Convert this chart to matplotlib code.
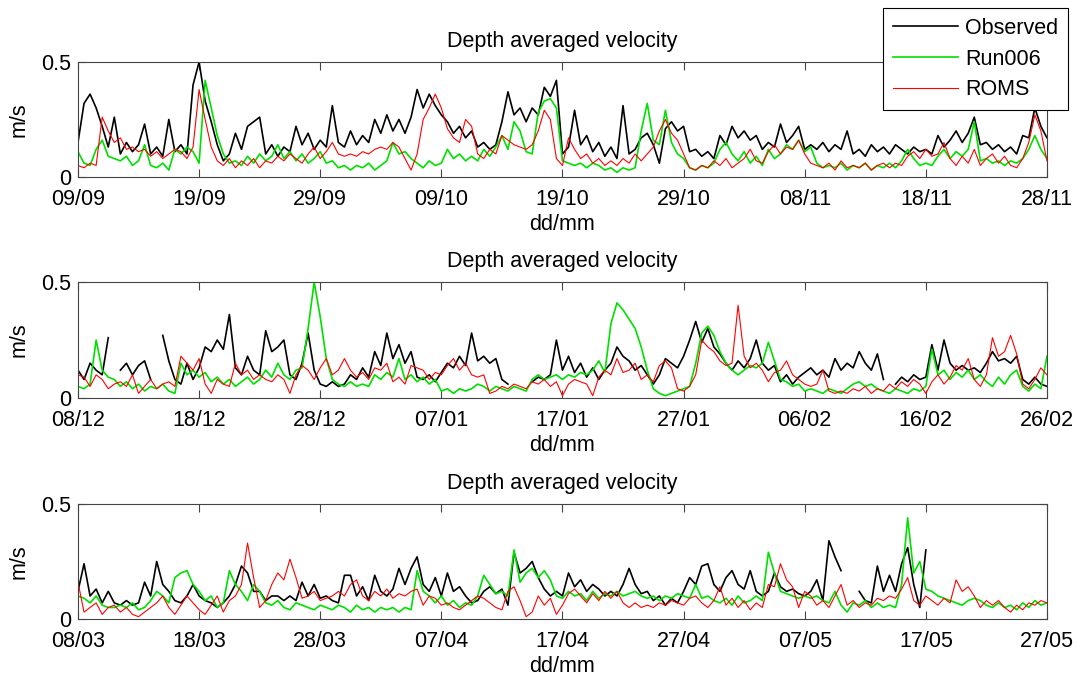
import numpy as np
import matplotlib
matplotlib.use("Agg")
import matplotlib.pyplot as plt

plt.rcParams['font.family'] = ['Liberation Sans', 'DejaVu Sans']

nan = np.nan

# time axis: two samples per day over 80 days
days = np.arange(161) * 0.5

# ---- Sep - Nov ----
obs1 = [0.15, 0.32, 0.36, 0.30, 0.22, 0.13, 0.26, 0.10, 0.15, 0.11,
        0.14, 0.23, 0.10, 0.13, 0.09, 0.25, 0.11, 0.14, 0.10, 0.40,
        0.50, 0.33, 0.24, 0.14, 0.07, 0.10, 0.19, 0.12, 0.22, 0.24,
        0.26, 0.10, 0.14, 0.09, 0.13, 0.11, 0.22, 0.14, 0.19, 0.12,
        0.16, 0.13, 0.31, 0.15, 0.13, 0.20, 0.14, 0.18, 0.15, 0.25,
        0.19, 0.27, 0.20, 0.25, 0.19, 0.26, 0.38, 0.30, 0.36, 0.31,
        0.27, 0.24, 0.19, 0.22, 0.17, 0.20, 0.13, 0.15, 0.12, 0.14,
        0.24, 0.37, 0.27, 0.30, 0.24, 0.30, 0.27, 0.39, 0.35, 0.42,
        0.10, 0.13, 0.29, 0.14, 0.18, 0.11, 0.15, 0.09, 0.13, 0.08,
        0.31, 0.10, 0.12, 0.17, 0.19, 0.14, 0.06, 0.21, 0.24, 0.20,
        0.22, 0.11, 0.12, 0.09, 0.11, 0.08, 0.18, 0.14, 0.22, 0.17,
        0.20, 0.16, 0.18, 0.12, 0.15, 0.13, 0.23, 0.15, 0.18, 0.22,
        0.12, 0.14, 0.12, 0.15, 0.11, 0.14, 0.12, 0.20, 0.10, 0.12,
        0.09, 0.14, 0.11, 0.13, 0.10, 0.14, 0.12, 0.10, 0.13, 0.11,
        0.12, 0.10, 0.18, 0.13, 0.16, 0.20, 0.15, 0.19, 0.26, 0.14,
        0.15, 0.12, 0.14, 0.11, 0.13, 0.10, 0.18, 0.17, 0.30, 0.22,
        0.17]
run1 = [0.11, 0.06, 0.05, 0.12, 0.16, 0.09, 0.08, 0.07, 0.09, 0.05,
        0.07, 0.14, 0.05, 0.04, 0.06, 0.03, 0.12, 0.10, 0.13, 0.11,
        0.06, 0.42, 0.30, 0.18, 0.10, 0.06, 0.07, 0.05, 0.09, 0.06,
        0.10, 0.07, 0.09, 0.14, 0.08, 0.11, 0.07, 0.10, 0.06, 0.08,
        0.11, 0.06, 0.07, 0.04, 0.05, 0.03, 0.05, 0.04, 0.06, 0.03,
        0.05, 0.07, 0.15, 0.10, 0.11, 0.08, 0.06, 0.04, 0.07, 0.05,
        0.06, 0.12, 0.08, 0.10, 0.07, 0.09, 0.07, 0.12, 0.09, 0.13,
        0.18, 0.12, 0.24, 0.20, 0.11, 0.10, 0.28, 0.33, 0.34, 0.30,
        0.07, 0.06, 0.05, 0.06, 0.04, 0.06, 0.05, 0.03, 0.04, 0.02,
        0.04, 0.03, 0.04, 0.20, 0.32, 0.16, 0.14, 0.29, 0.15, 0.10,
        0.08, 0.04, 0.03, 0.05, 0.04, 0.06, 0.12, 0.15, 0.10, 0.07,
        0.11, 0.06, 0.09, 0.05, 0.12, 0.08, 0.10, 0.14, 0.12, 0.16,
        0.11, 0.13, 0.06, 0.04, 0.05, 0.04, 0.06, 0.03, 0.05, 0.04,
        0.06, 0.03, 0.05, 0.04, 0.06, 0.04, 0.07, 0.12, 0.08, 0.05,
        0.06, 0.05, 0.09, 0.12, 0.08, 0.11, 0.09, 0.12, 0.24, 0.07,
        0.08, 0.06, 0.07, 0.05, 0.07, 0.06, 0.08, 0.12, 0.18, 0.12,
        0.08]
roms1 = [0.05, 0.04, 0.06, 0.05, 0.26, 0.20, 0.15, 0.17, 0.12, 0.13,
         0.11, 0.12, 0.09, 0.11, 0.08, 0.10, 0.12, 0.11, 0.08, 0.13,
         0.38, 0.25, 0.13, 0.07, 0.05, 0.08, 0.04, 0.07, 0.05, 0.08,
         0.04, 0.07, 0.06, 0.09, 0.07, 0.10, 0.08, 0.06, 0.10, 0.13,
         0.08, 0.11, 0.15, 0.10, 0.09, 0.10, 0.09, 0.11, 0.10, 0.12,
         0.13, 0.12, 0.15, 0.13, 0.08, 0.03, 0.10, 0.25, 0.30, 0.36,
         0.30, 0.21, 0.17, 0.15, 0.25, 0.22, 0.10, 0.08, 0.12, 0.10,
         0.18, 0.16, 0.14, 0.13, 0.12, 0.14, 0.20, 0.29, 0.25, 0.08,
         0.05, 0.17, 0.12, 0.08, 0.10, 0.06, 0.08, 0.05, 0.07, 0.05,
         0.08, 0.06, 0.10, 0.07, 0.10, 0.13, 0.20, 0.25, 0.19, 0.16,
         0.10, 0.04, 0.03, 0.05, 0.04, 0.07, 0.05, 0.08, 0.04, 0.06,
         0.08, 0.12, 0.07, 0.06, 0.11, 0.14, 0.10, 0.13, 0.12, 0.16,
         0.10, 0.06, 0.05, 0.04, 0.06, 0.03, 0.07, 0.04, 0.05, 0.04,
         0.06, 0.03, 0.05, 0.06, 0.04, 0.06, 0.05, 0.09, 0.11, 0.08,
         0.12, 0.09, 0.10, 0.15, 0.08, 0.05, 0.09, 0.06, 0.12, 0.05,
         0.08, 0.10, 0.06, 0.09, 0.05, 0.04, 0.08, 0.15, 0.27, 0.20,
         0.07]
ticks1 = ['09/09', '19/09', '29/09', '09/10', '19/10', '29/10', '08/11', '18/11', '28/11']

# ---- Dec - Feb ----
obs2 = [0.12, 0.08, 0.15, 0.12, 0.10, 0.26, nan, 0.12, 0.15, 0.10,
        0.14, 0.16, 0.08, nan, 0.27, 0.16, 0.08, 0.06, 0.15, 0.08,
        0.13, 0.22, 0.20, 0.25, 0.21, 0.36, 0.13, 0.10, 0.18, 0.12,
        0.10, 0.29, 0.20, 0.22, 0.25, 0.10, 0.08, 0.15, 0.28, 0.12,
        0.06, 0.05, 0.07, 0.05, 0.06, 0.10, 0.08, 0.13, 0.09, 0.20,
        0.14, 0.28, 0.17, 0.23, 0.15, 0.20, 0.09, 0.08, 0.10, 0.07,
        0.11, 0.15, 0.13, 0.18, 0.14, 0.28, 0.16, 0.18, 0.15, 0.17,
        0.08, 0.06, nan, nan, nan, 0.07, 0.09, 0.08, 0.10, 0.25,
        0.12, 0.18, 0.11, 0.15, 0.09, 0.13, 0.08, 0.12, 0.15, 0.22,
        0.18, 0.16, 0.12, 0.14, 0.10, 0.06, 0.10, 0.17, 0.15, 0.13,
        0.18, 0.25, 0.33, 0.24, 0.30, 0.22, 0.19, 0.15, 0.12, 0.16,
        0.13, 0.17, 0.25, 0.15, 0.12, 0.14, 0.07, 0.10, 0.06, 0.09,
        0.11, 0.13, 0.10, 0.12, 0.09, 0.17, 0.12, 0.15, 0.13, 0.20,
        0.15, 0.12, 0.19, 0.08, nan, 0.06, 0.09, 0.07, 0.10, 0.08,
        0.09, 0.23, 0.12, 0.25, 0.15, 0.12, 0.14, 0.12, 0.13, 0.11,
        0.15, 0.20, 0.16, 0.17, 0.15, 0.18, 0.08, 0.06, 0.09, 0.06,
        0.05]
run2 = [0.05, 0.04, 0.06, 0.25, 0.12, 0.09, 0.08, 0.05, 0.07, 0.04,
        0.06, 0.03, 0.05, 0.04, 0.06, 0.03, 0.02, 0.15, 0.10, 0.12,
        0.09, 0.11, 0.07, 0.09, 0.06, 0.08, 0.05, 0.07, 0.09, 0.06,
        0.08, 0.12, 0.09, 0.15, 0.10, 0.08, 0.12, 0.13, 0.30, 0.50,
        0.35, 0.17, 0.08, 0.06, 0.05, 0.07, 0.05, 0.06, 0.05, 0.10,
        0.08, 0.11, 0.09, 0.17, 0.08, 0.10, 0.07, 0.09, 0.06, 0.08,
        0.03, 0.04, 0.02, 0.04, 0.03, 0.04, 0.06, 0.05, 0.03, 0.05,
        0.04, 0.03, 0.05, 0.04, 0.03, 0.08, 0.10, 0.08, 0.09, 0.10,
        0.08, 0.10, 0.09, 0.11, 0.10, 0.12, 0.16, 0.11, 0.32, 0.41,
        0.38, 0.34, 0.30, 0.22, 0.12, 0.04, 0.02, 0.01, 0.02, 0.03,
        0.04, 0.05, 0.15, 0.28, 0.31, 0.27, 0.20, 0.15, 0.12, 0.10,
        0.12, 0.14, 0.13, 0.15, 0.24, 0.16, 0.08, 0.07, 0.05, 0.06,
        0.03, 0.04, 0.03, 0.02, 0.04, 0.03, 0.02, 0.04, 0.06, 0.07,
        0.05, 0.06, 0.04, 0.03, 0.02, 0.04, 0.03, 0.02, 0.04, 0.03,
        0.05, 0.21, 0.10, 0.12, 0.08, 0.11, 0.09, 0.12, 0.08, 0.10,
        0.07, 0.05, 0.09, 0.06, 0.10, 0.12, 0.05, 0.03, 0.06, 0.04,
        0.18]
roms2 = [0.10, 0.09, 0.05, 0.10, 0.08, 0.04, 0.06, 0.07, 0.05, 0.10,
         0.02, 0.05, 0.08, 0.04, 0.06, 0.07, 0.05, 0.18, 0.15, 0.12,
         0.17, 0.06, 0.02, 0.08, 0.06, 0.05, 0.15, 0.10, 0.12, 0.08,
         0.10, 0.08, 0.07, 0.10, 0.08, 0.02, 0.10, 0.14, 0.12, 0.08,
         0.13, 0.17, 0.10, 0.12, 0.17, 0.12, 0.09, 0.11, 0.08, 0.13,
         0.12, 0.15, 0.07, 0.09, 0.06, 0.14, 0.13, 0.12, 0.08, 0.11,
         0.10, 0.14, 0.17, 0.12, 0.15, 0.10, 0.09, 0.10, 0.02, 0.03,
         0.05, 0.04, 0.06, 0.05, 0.04, 0.07, 0.06, 0.08, 0.05, 0.07,
         0.01, 0.06, 0.08, 0.07, 0.06, 0.01, 0.09, 0.12, 0.10, 0.17,
         0.11, 0.12, 0.15, 0.08, 0.10, 0.07, 0.14, 0.16, 0.13, 0.04,
         0.03, 0.05, 0.10, 0.25, 0.22, 0.20, 0.16, 0.14, 0.15, 0.40,
         0.18, 0.13, 0.15, 0.12, 0.07, 0.11, 0.12, 0.16, 0.10, 0.08,
         0.06, 0.05, 0.06, 0.12, 0.03, 0.02, 0.03, 0.02, 0.04, 0.03,
         0.05, 0.02, 0.04, 0.03, 0.06, 0.04, 0.07, 0.05, 0.08, 0.06,
         0.02, 0.07, 0.10, 0.06, 0.09, 0.14, 0.12, 0.17, 0.08, 0.05,
         0.10, 0.26, 0.18, 0.20, 0.27, 0.19, 0.06, 0.04, 0.08, 0.13,
         0.10]
ticks2 = ['08/12', '18/12', '28/12', '07/01', '17/01', '27/01', '06/02', '16/02', '26/02']

# ---- Mar - May ----
obs3 = [0.12, 0.24, 0.10, 0.13, 0.07, 0.12, 0.07, 0.06, 0.08, 0.06,
        0.07, 0.16, 0.10, 0.25, 0.15, 0.12, 0.08, 0.07, 0.10, 0.15,
        0.10, 0.08, 0.07, 0.05, 0.07, 0.10, 0.15, 0.23, 0.20, 0.12,
        0.12, 0.08, 0.10, 0.10, 0.08, 0.10, 0.08, 0.16, 0.10, 0.15,
        0.09, 0.10, 0.08, 0.07, 0.19, 0.19, 0.10, 0.14, 0.08, 0.19,
        0.12, 0.10, 0.13, 0.22, 0.15, 0.22, 0.27, 0.15, 0.12, 0.18,
        0.10, 0.20, 0.12, 0.14, 0.10, 0.07, 0.08, 0.12, 0.14, 0.11,
        0.13, 0.06, 0.29, 0.20, 0.22, 0.25, 0.18, 0.13, 0.10, 0.12,
        0.10, 0.20, 0.14, 0.17, 0.12, 0.15, 0.13, 0.10, 0.12, 0.10,
        0.15, 0.22, 0.15, 0.11, 0.12, 0.08, 0.10, 0.06, 0.09, 0.07,
        0.12, 0.18, 0.15, 0.23, 0.24, 0.15, 0.12, 0.18, 0.21, 0.15,
        0.13, 0.21, 0.12, 0.10, 0.12, 0.20, 0.14, 0.12, 0.13, 0.11,
        0.10, 0.12, 0.17, 0.08, 0.34, 0.27, 0.21, nan, nan, 0.12,
        0.08, 0.07, 0.23, 0.12, 0.19, 0.12, 0.24, 0.31, 0.15, 0.05,
        0.30, nan, nan, nan, nan, nan, nan, nan, nan, nan,
        nan, nan, nan, nan, nan, nan, nan, nan, nan, nan,
        nan]
run3 = [0.10, 0.09, 0.07, 0.10, 0.06, 0.05, 0.05, 0.06, 0.05, 0.07,
        0.04, 0.05, 0.08, 0.12, 0.10, 0.07, 0.18, 0.20, 0.21, 0.15,
        0.12, 0.08, 0.10, 0.05, 0.07, 0.21, 0.15, 0.12, 0.08, 0.15,
        0.12, 0.07, 0.06, 0.08, 0.05, 0.04, 0.07, 0.06, 0.05, 0.04,
        0.06, 0.05, 0.04, 0.06, 0.05, 0.03, 0.06, 0.04, 0.05, 0.03,
        0.05, 0.04, 0.05, 0.03, 0.05, 0.04, 0.21, 0.12, 0.10, 0.07,
        0.10, 0.06, 0.08, 0.05, 0.07, 0.06, 0.10, 0.19, 0.15, 0.11,
        0.12, 0.10, 0.30, 0.16, 0.20, 0.22, 0.18, 0.21, 0.17, 0.10,
        0.09, 0.12, 0.10, 0.11, 0.08, 0.12, 0.09, 0.11, 0.10, 0.12,
        0.10, 0.11, 0.12, 0.10, 0.09, 0.10, 0.08, 0.10, 0.09, 0.11,
        0.10, 0.09, 0.15, 0.09, 0.10, 0.08, 0.07, 0.09, 0.06, 0.10,
        0.07, 0.08, 0.10, 0.08, 0.29, 0.20, 0.12, 0.11, 0.10, 0.09,
        0.10, 0.09, 0.10, 0.08, 0.07, 0.12, 0.06, 0.03, 0.07, 0.06,
        0.08, 0.05, 0.07, 0.05, 0.06, 0.05, 0.15, 0.44, 0.20, 0.25,
        0.13, 0.12, 0.10, 0.09, 0.08, 0.07, 0.06, 0.08, 0.09, 0.08,
        0.06, 0.05, 0.07, 0.05, 0.06, 0.04, 0.07, 0.05, 0.08, 0.06,
        0.07]
roms3 = [0.16, 0.03, 0.05, 0.07, 0.02, 0.05, 0.06, 0.03, 0.05, 0.02,
         0.01, 0.03, 0.05, 0.07, 0.10, 0.05, 0.02, 0.06, 0.10, 0.07,
         0.04, 0.02, 0.06, 0.10, 0.03, 0.08, 0.10, 0.15, 0.33, 0.18,
         0.05, 0.08, 0.15, 0.20, 0.17, 0.26, 0.18, 0.09, 0.10, 0.12,
         0.08, 0.09, 0.10, 0.12, 0.10, 0.15, 0.17, 0.10, 0.08, 0.12,
         0.10, 0.13, 0.09, 0.11, 0.10, 0.12, 0.13, 0.06, 0.10, 0.09,
         0.06, 0.07, 0.05, 0.04, 0.06, 0.08, 0.10, 0.09, 0.07, 0.05,
         0.04, 0.12, 0.14, 0.08, 0.01, 0.03, 0.10, 0.06, 0.09, 0.02,
         0.06, 0.11, 0.13, 0.10, 0.07, 0.11, 0.08, 0.12, 0.09, 0.12,
         0.07, 0.05, 0.07, 0.05, 0.06, 0.05, 0.07, 0.06, 0.08, 0.07,
         0.06, 0.09, 0.10, 0.07, 0.05, 0.08, 0.14, 0.06, 0.09, 0.05,
         0.08, 0.04, 0.07, 0.05, 0.15, 0.14, 0.24, 0.17, 0.14, 0.05,
         0.12, 0.10, 0.06, 0.08, 0.05, 0.10, 0.15, 0.06, 0.08, 0.05,
         0.07, 0.06, 0.09, 0.08, 0.10, 0.09, 0.13, 0.18, 0.08, 0.06,
         0.10, 0.08, 0.06, 0.09, 0.07, 0.17, 0.12, 0.14, 0.10, 0.05,
         0.08, 0.06, 0.08, 0.05, 0.03, 0.06, 0.04, 0.07, 0.06, 0.08,
         0.07]
ticks3 = ['08/03', '18/03', '28/03', '07/04', '17/04', '27/04', '07/05', '17/05', '27/05']

panels = [(obs1, run1, roms1, ticks1),
          (obs2, run2, roms2, ticks2),
          (obs3, run3, roms3, ticks3)]

fig = plt.figure(figsize=(10.77, 6.77), dpi=100)
fs = 15.5
# axes boxes in figure fraction [left, bottom, width, height]
boxes = [[0.0724, 0.7386, 0.8997, 0.1699],
         [0.0724, 0.4121, 0.8997, 0.1713],
         [0.0724, 0.0857, 0.8997, 0.1699]]

for box, (obs, run, roms, labels) in zip(boxes, panels):
    ax = fig.add_axes(box)
    l1, = ax.plot(days, obs, color='black', lw=1.2, label='Observed')
    l2, = ax.plot(days, run, color='#00e000', lw=1.2, label='Run006')
    l3, = ax.plot(days, roms, color='#ff0000', lw=0.8, label='ROMS')
    ax.set_xlim(0, 80)
    ax.set_ylim(0, 0.5)
    ax.set_xticks(np.arange(0, 81, 10))
    ax.set_xticklabels(labels)
    ax.set_yticks([0, 0.5])
    ax.set_yticklabels(['0', '0.5'])
    ax.tick_params(direction='in', top=True, right=True, length=6, width=0.8,
                   labelsize=fs, color='#444444')
    ax.tick_params(axis='x', pad=8.5)
    ax.tick_params(axis='y', pad=5)
    for s in ax.spines.values():
        s.set_color('#444444')
        s.set_linewidth(0.8)
    ax.set_title('Depth averaged velocity', fontsize=fs, pad=11)
    ax.set_xlabel('dd/mm', fontsize=fs, labelpad=3)
    ax.set_ylabel('m/s', fontsize=fs, labelpad=8)

leg = fig.legend([l1, l2, l3], ['Observed', 'Run006', 'ROMS'],
                 loc='upper right', bbox_to_anchor=(1068 / 1077, 1 - 8 / 677),
                 fontsize=fs, frameon=True, fancybox=False, framealpha=1,
                 edgecolor='black', handlelength=3.0, handletextpad=0.35,
                 labelspacing=0.46, borderpad=0.45, borderaxespad=0)
leg.get_frame().set_linewidth(0.8)

fig.savefig('out.png', dpi=100)
